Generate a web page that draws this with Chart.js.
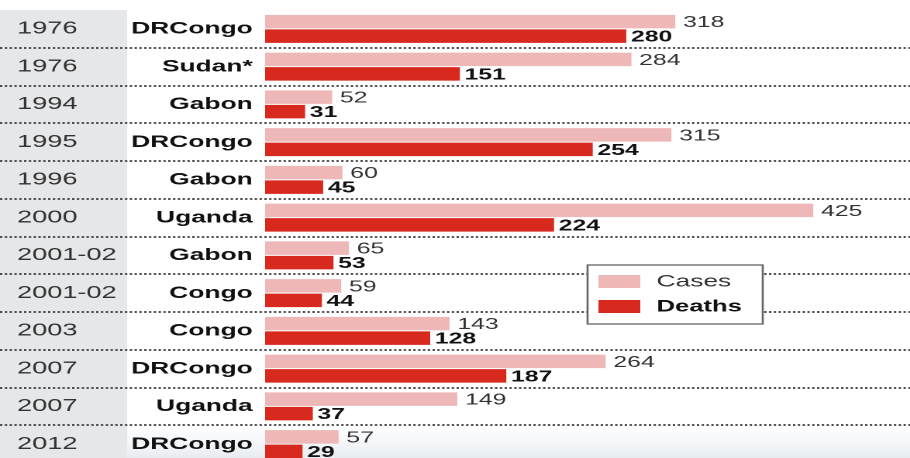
<!DOCTYPE html>
<html><head><meta charset="utf-8">
<script src="https://cdn.jsdelivr.net/npm/chart.js@4"></script>
<style>
html,body{margin:0;padding:0;overflow:hidden;background:#fff;width:910px;height:458px;}
#wrap{position:absolute;left:0;top:0;width:587px;height:464px;transform:scaleX(1.5503);transform-origin:0 0;}
</style></head><body>
<div id="wrap"><canvas id="c"></canvas></div>
<script>
const years = ['1976','1976','1994','1995','1996','2000','2001-02','2001-02','2003','2007','2007','2012'];
const countries = ['DRCongo','Sudan*','Gabon','DRCongo','Gabon','Uganda','Gabon','Congo','Congo','DRCongo','Uganda','DRCongo'];
const cases = [318,284,52,315,60,425,65,59,143,264,149,57];
const deaths = [280,151,31,254,45,224,53,44,128,187,37,29];
const seriesNames = ['Cases','Deaths'];

const FONT = '"Liberation Sans", Arial, sans-serif';

const deco = {
  id: 'deco',
  beforeDraw(chart) {
    const {ctx, chartArea, scales} = chart;
    const yy = scales.yYear, y = scales.y;
    ctx.save();
    const n = countries.length;
    const sepLast = (y.getPixelForValue(n - 2) + y.getPixelForValue(n - 1)) / 2;
    const g = ctx.createLinearGradient(0, sepLast, 0, chart.height);
    g.addColorStop(0, 'rgba(235,239,243,0)');
    g.addColorStop(1, 'rgba(225,231,237,1)');
    ctx.fillStyle = g;
    ctx.fillRect(yy.right, sepLast, chart.width - yy.right, chart.height - sepLast);
    ctx.fillStyle = '#e6e7e9';
    ctx.fillRect(0, chartArea.top, yy.right, chart.height - chartArea.top);
    ctx.restore();
  },
  beforeDatasetsDraw(chart) {
    const {ctx, scales} = chart;
    const y = scales.y;
    ctx.save();
    ctx.strokeStyle = '#3a3a3a';
    ctx.lineWidth = 1.8;
    ctx.setLineDash([1.5, 1.6]);
    for (let i = 0; i < countries.length - 1; i++) {
      const yp = Math.round((y.getPixelForValue(i) + y.getPixelForValue(i + 1)) / 2);
      ctx.beginPath();
      ctx.moveTo(0, yp);
      ctx.lineTo(chart.width, yp);
      ctx.stroke();
    }
    ctx.restore();
  },
  afterDatasetsDraw(chart) {
    const {ctx, chartArea, scales} = chart;
    ctx.save();
    ctx.textBaseline = 'middle';
    ctx.textAlign = 'left';
    chart.data.datasets.forEach((ds, di) => {
      const meta = chart.getDatasetMeta(di);
      meta.data.forEach((bar, i) => {
        if (di === 0) {
          ctx.font = '16px ' + FONT;
          ctx.fillStyle = '#333';
          ctx.fillText(String(ds.data[i]), bar.x + 5, bar.y + 1);
        } else {
          ctx.font = 'bold 16px ' + FONT;
          ctx.fillStyle = '#111';
          ctx.fillText(String(ds.data[i]), bar.x + 3, bar.y + 1);
        }
      });
    });
    const bx = scales.x.getPixelForValue(250);
    const by = chartArea.top + 255;
    const bw = 113, bh = 59;
    ctx.fillStyle = '#fff';
    ctx.fillRect(bx, by, bw, bh);
    ctx.strokeStyle = '#666';
    ctx.lineWidth = 1.3;
    ctx.setLineDash([]);
    ctx.strokeRect(bx, by, bw, bh);
    chart.data.datasets.forEach((ds, di) => {
      const top = by + 10 + di * 25;
      ctx.fillStyle = ds.backgroundColor;
      ctx.fillRect(bx + 7, top, 27, 13);
      ctx.font = (di === 0 ? '17px ' : 'bold 16.5px ') + FONT;
      ctx.fillStyle = di === 0 ? '#333' : '#111';
      ctx.fillText(ds.label, bx + 44.5, top + 7);
    });
    ctx.restore();
  }
};

new Chart(document.getElementById('c'), {
  type: 'bar',
  data: {
    labels: countries,
    datasets: [
      {label: seriesNames[0], data: cases, backgroundColor: '#efb8b8', categoryPercentage: 0.77, barPercentage: 0.93},
      {label: seriesNames[1], data: deaths, backgroundColor: '#d8291f', categoryPercentage: 0.77, barPercentage: 0.93}
    ]
  },
  options: {
    indexAxis: 'y',
    responsive: true,
    maintainAspectRatio: false,
    animation: false,
    devicePixelRatio: 2,
    layout: {padding: {left: 11, top: 10, right: 0, bottom: 1}},
    plugins: {legend: {display: false}, tooltip: {enabled: false}},
    scales: {
      x: {type: 'linear', display: false, min: 0, max: 500},
      y: {
        type: 'category', position: 'left', weight: 0, offset: true,
        grid: {display: false, drawTicks: false, offset: true},
        border: {display: false},
        ticks: {autoSkip: false, padding: 8, color: '#111', font: {family: FONT, size: 17, weight: 'bold'}},
        afterFit: s => { s.width = 89; s.paddingTop = 0; s.paddingBottom = 0; }
      },
      yYear: {
        type: 'category', labels: years, position: 'left', weight: 1, offset: true,
        grid: {display: false, drawTicks: false, offset: true},
        border: {display: false},
        ticks: {autoSkip: false, padding: 0, crossAlign: 'far', color: '#333', font: {family: FONT, size: 17.5, weight: 'normal'}},
        afterFit: s => { s.width = 71; s.paddingTop = 0; s.paddingBottom = 0; }
      }
    }
  },
  plugins: [deco]
});
</script>
</body></html>
